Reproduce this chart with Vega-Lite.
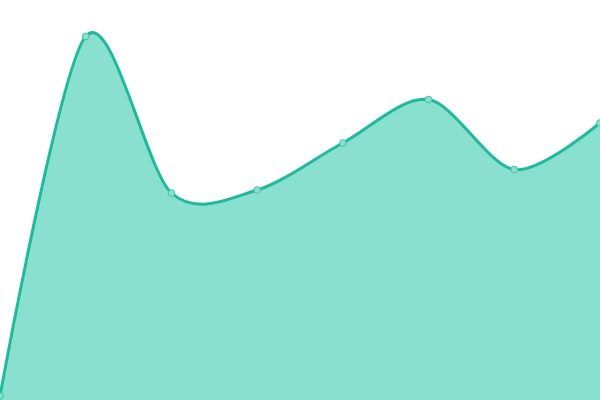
{
  "$schema": "https://vega.github.io/schema/vega-lite/v6.json",
  "width": 600,
  "height": 400,
  "autosize": {"type": "fit", "contains": "padding"},
  "padding": 0,
  "background": "white",
  "config": {"view": {"stroke": null}},
  "data": {
    "values": [
      {"i": 0, "v": 1},
      {"i": 1, "v": 90.9},
      {"i": 2, "v": 51.75},
      {"i": 3, "v": 52.5},
      {"i": 4, "v": 64.25},
      {"i": 5, "v": 75.1},
      {"i": 6, "v": 57.6},
      {"i": 7, "v": 69.25}
    ]
  },
  "encoding": {
    "x": {"field": "i", "type": "quantitative", "axis": null, "scale": {"domain": [0, 7], "nice": false, "zero": false}},
    "y": {"field": "v", "type": "quantitative", "axis": null, "scale": {"domain": [0, 100], "nice": false}}
  },
  "layer": [
    {
      "mark": {"type": "area", "interpolate": "cardinal", "tension": 0.1, "color": "#89e0cf", "clip": true}
    },
    {
      "mark": {"type": "line", "interpolate": "cardinal", "tension": 0.1, "color": "#1abc9c", "strokeWidth": 3, "clip": true}
    },
    {
      "mark": {"type": "point", "filled": true, "fill": "#89e0cf", "stroke": "#3cc6aa", "strokeWidth": 1, "opacity": 1, "size": 45, "clip": true}
    }
  ]
}
